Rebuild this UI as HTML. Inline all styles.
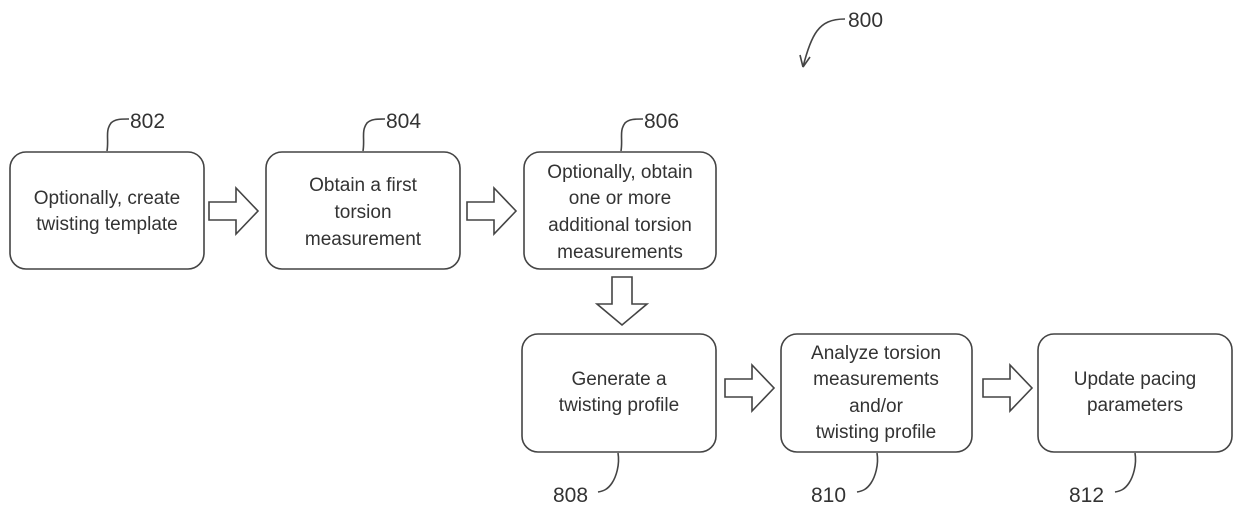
<!DOCTYPE html>
<html><head><style>
body{margin:0;background:#fff;}
svg{display:block;}
text{font-family:"Liberation Sans",sans-serif;font-size:19px;fill:#333;}
.n{font-size:21px;}
</style></head><body>
<svg width="1240" height="513" viewBox="0 0 1240 513" xmlns="http://www.w3.org/2000/svg">
<g fill="none" stroke="#444" stroke-width="1.6">
<rect x="10" y="152" width="194" height="117" rx="16"/>
<rect x="266" y="152" width="194" height="117" rx="16"/>
<rect x="524" y="152" width="192" height="117" rx="16"/>
<rect x="522" y="334" width="194" height="118" rx="16"/>
<rect x="781" y="334" width="191" height="118" rx="16"/>
<rect x="1038" y="334" width="194" height="118" rx="16"/>
<path d="M209 202h27v-14l22 23-22 23v-14h-27z"/>
<path d="M467 202h27v-14l22 23-22 23v-14h-27z"/>
<path d="M725 379h27v-14l22 23-22 23v-14h-27z"/>
<path d="M983 379h27v-14l22 23-22 23v-14h-27z"/>
<path d="M612 277v27h-15l25 21 25-21h-15v-27z"/>
<path d="M107 151c2-12-2-20 4-28 4-4 10-4 18-4"/>
<path d="M363 151c2-12-2-20 4-28 4-4 10-4 18-4"/>
<path d="M621 151c2-12-2-20 4-28 4-4 10-4 18-4"/>
<path d="M618 453c2 12-2 24-6 30-4 6-8 8-14 9"/>
<path d="M877 453c2 12-2 24-6 30-4 6-8 8-14 9"/>
<path d="M1135 453c2 12-2 24-6 30-4 6-8 8-14 9"/>
<path d="M845 19c-14 0-22 4-28 12-6 8-10 20-14 36"/>
<path d="M803 67l-3-12M803 67l7-10"/>
</g>
<text class="n" x="130" y="128">802</text>
<text class="n" x="386" y="128">804</text>
<text class="n" x="644" y="128">806</text>
<text class="n" x="553" y="502">808</text>
<text class="n" x="811" y="502">810</text>
<text class="n" x="1069" y="502">812</text>
<text class="n" x="848" y="27">800</text>
<g text-anchor="middle">
<text x="107" y="204">Optionally, create</text>
<text x="107" y="230">twisting template</text>
<text x="363" y="191">Obtain a first</text>
<text x="363" y="218">torsion</text>
<text x="363" y="245">measurement</text>
<text x="620" y="178">Optionally, obtain</text>
<text x="620" y="204">one or more</text>
<text x="620" y="231">additional torsion</text>
<text x="620" y="258">measurements</text>
<text x="619" y="385">Generate a</text>
<text x="619" y="411">twisting profile</text>
<text x="876" y="359">Analyze torsion</text>
<text x="876" y="385">measurements</text>
<text x="876" y="412">and/or</text>
<text x="876" y="438">twisting profile</text>
<text x="1135" y="385">Update pacing</text>
<text x="1135" y="411">parameters</text>
</g>
</svg>
</body></html>
